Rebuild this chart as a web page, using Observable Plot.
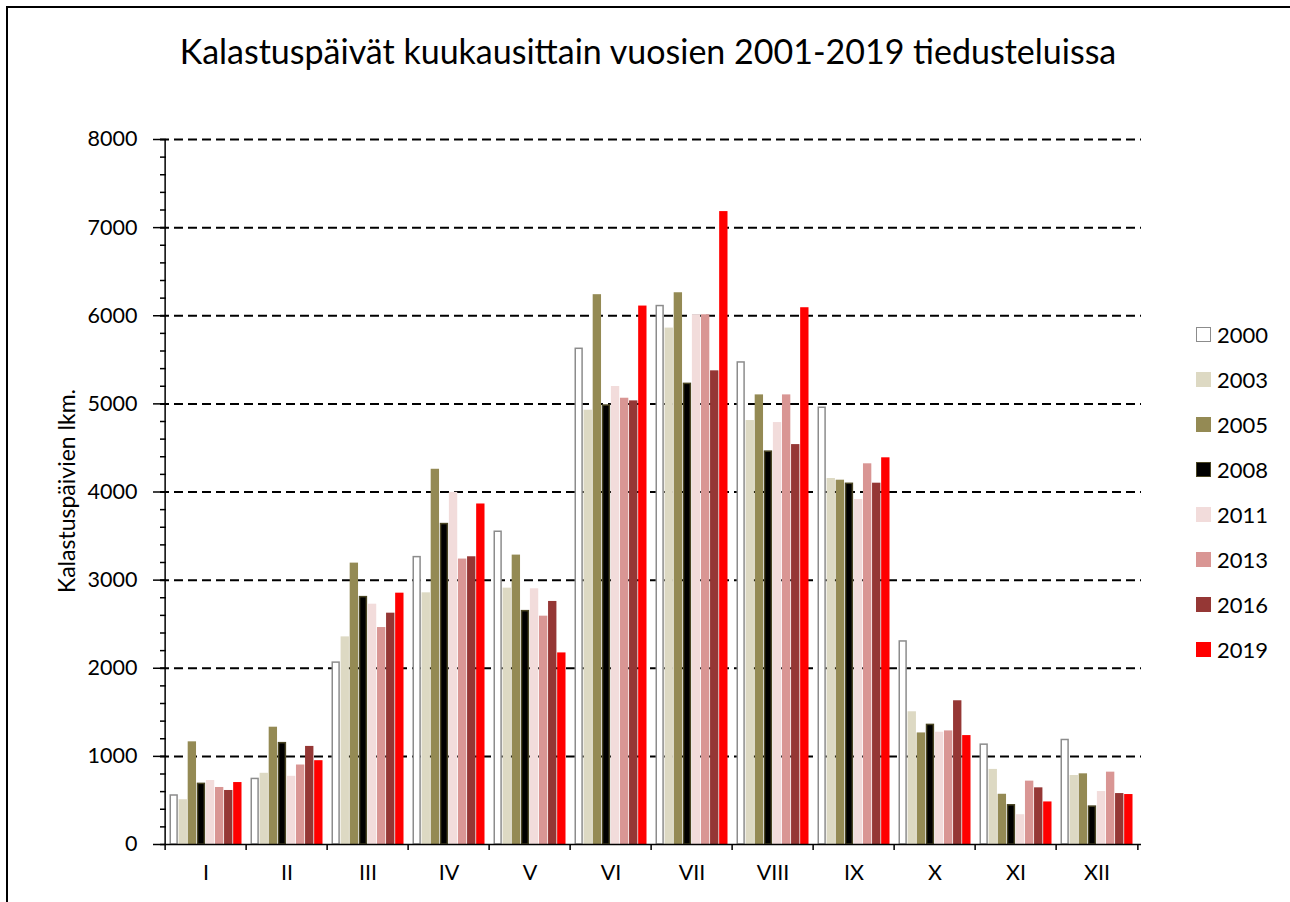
<!DOCTYPE html>
<html>
<head>
<meta charset="utf-8">
<script src="https://cdn.jsdelivr.net/npm/d3@7"></script>
<script src="https://cdn.jsdelivr.net/npm/@observablehq/plot@0.6"></script>
<style>
  html, body { margin: 0; padding: 0; background: #fff; }
  #wrap { position: relative; width: 1290px; height: 902px; overflow: hidden; font-family: Lato, "Open Sans", sans-serif; color: #000; }
  #border { position: absolute; left: 6px; top: 6px; width: 1400px; height: 1000px; border: 2px solid #000; box-sizing: border-box; }
  #title { position: absolute; left: 0; top: 29px; width: 1296px; text-align: center; font-size: 34px; line-height: 44px; white-space: nowrap; }
  #ytitle { position: absolute; left: 66px; top: 491px; transform: translate(-50%, -50%) rotate(-90deg); font-size: 23px; white-space: nowrap; }
  #legend { position: absolute; left: 1196px; top: 0; }
  .li { position: absolute; left: 0; height: 24px; display: flex; align-items: center; white-space: nowrap; font-size: 22px; }
  .sw { width: 15px; height: 15px; box-sizing: border-box; margin-right: 6px; }
  #chart { position: absolute; left: 0; top: 0; }
</style>
</head>
<body>
<div id="wrap">
  <div id="border"></div>
  <div id="chart"></div>
  <div id="title">Kalastuspäivät kuukausittain vuosien 2001-2019 tiedusteluissa</div>
  <div id="ytitle">Kalastuspäivien lkm.</div>
  <div id="legend"></div>
</div>
<script>
// ---- data ----
const months = ["I", "II", "III", "IV", "V", "VI", "VII", "VIII", "IX", "X", "XI", "XII"];
const years = ["2000", "2003", "2005", "2008", "2011", "2013", "2016", "2019"];
const v2000 = [556, 744, 2064, 3261, 3549, 5625, 6110, 5470, 4956, 2304, 1133, 1186];
const v2003 = [508, 808, 2356, 2856, 2909, 4928, 5860, 4811, 4153, 1506, 852, 783];
const v2005 = [1165, 1331, 3193, 4258, 3284, 6239, 6261, 5102, 4134, 1266, 570, 802];
const v2008 = [688, 1150, 2807, 3636, 2648, 4981, 5227, 4458, 4093, 1357, 445, 430];
const v2011 = [726, 774, 2727, 3996, 2902, 5197, 6011, 4788, 3915, 1274, 338, 601];
const v2013 = [647, 902, 2462, 3239, 2591, 5064, 6011, 5102, 4320, 1289, 719, 821];
const v2016 = [613, 1113, 2625, 3265, 2758, 5034, 5375, 4538, 4100, 1631, 643, 578];
const v2019 = [703, 951, 2852, 3864, 2174, 6110, 7182, 6091, 4388, 1236, 483, 567];
const yTicks = [0, 1000, 2000, 3000, 4000, 5000, 6000, 7000, 8000];
const gridTicks = [1000, 2000, 3000, 4000, 5000, 6000, 7000, 8000];

const seriesValues = [v2000, v2003, v2005, v2008, v2011, v2013, v2016, v2019];
const fills = ["#ffffff", "#ddd9c3", "#948a54", "#000000", "#f2dcdb", "#d99694", "#953735", "#ff0000"];
const strokes = ["#8c8c8c", "none", "none", "#4a4523", "none", "none", "none", "none"];

// ---- layout ----
const W = 1290, H = 902;
const mL = 160, mR = 149, mT = 139, mB = 58;
const step = (W - mL - mR) / months.length;
const groupFrac = 0.89;
const bw = step * groupFrac / years.length;
const pad = (step - bw * years.length) / 2;

const table = years.map((y, i) => months.map((m, j) => ({month: m, year: y, value: seriesValues[i][j]})));

const barMarks = years.map((y, i) => Plot.barY(table[i], {
  x: "month",
  y: "value",
  fill: fills[i],
  stroke: strokes[i],
  strokeWidth: strokes[i] === "none" ? 0 : 1.5,
  insetLeft: pad + i * bw + (strokes[i] === "none" ? 0 : 0.75),
  insetRight: pad + (years.length - 1 - i) * bw + (strokes[i] === "none" ? 0 : 0.75)
}));

const plot = Plot.plot({
  width: W,
  height: H,
  marginLeft: mL,
  marginRight: mR,
  marginTop: mT,
  marginBottom: mB,
  style: {fontFamily: "Lato, 'Open Sans', sans-serif", fontSize: "21.5px", color: "#000", background: "transparent"},
  x: {type: "band", domain: months, padding: 0, axis: null, label: null},
  y: {domain: [0, 8000], axis: null, label: null},
  marks: [
    Plot.ruleY(gridTicks, {y: d => d, stroke: "#000", strokeWidth: 2, strokeDasharray: "9,5"}),
    ...barMarks,
    Plot.ruleY([0], {y: d => d, stroke: "#000", strokeWidth: 1.5}),
    Plot.ruleX([months[0]], {x: d => d, dx: -step / 2, y1: 0, y2: 8000, stroke: "#000", strokeWidth: 1.5}),
    Plot.axisY({ticks: yTicks, tickSize: 7, tickPadding: 16, strokeWidth: 1.5, label: null, tickFormat: d => String(d)}),
    Plot.axisY({interval: 200, tickSize: 6, dx: 6, strokeWidth: 1.5, label: null, tickFormat: () => ""}),
    Plot.axisX({tickSize: 6, dx: -step / 2, strokeWidth: 1.5, label: null, tickFormat: () => ""}),
    Plot.axisX({ticks: [months[months.length - 1]], tickSize: 6, dx: step / 2, strokeWidth: 1.5, label: null, tickFormat: () => ""}),
    Plot.axisX({tickSize: 0, tickPadding: 20, label: null})
  ]
});
document.getElementById("chart").appendChild(plot);

// ---- legend ----
const legend = document.getElementById("legend");
years.forEach((y, i) => {
  const item = document.createElement("div");
  item.className = "li";
  item.style.top = (334 - 12 + i * 45) + "px";
  const sw = document.createElement("div");
  sw.className = "sw";
  sw.style.background = fills[i];
  if (strokes[i] !== "none") sw.style.border = "1.5px solid " + strokes[i];
  item.appendChild(sw);
  const t = document.createElement("span");
  t.textContent = y;
  item.appendChild(t);
  legend.appendChild(item);
});
</script>
</body>
</html>
